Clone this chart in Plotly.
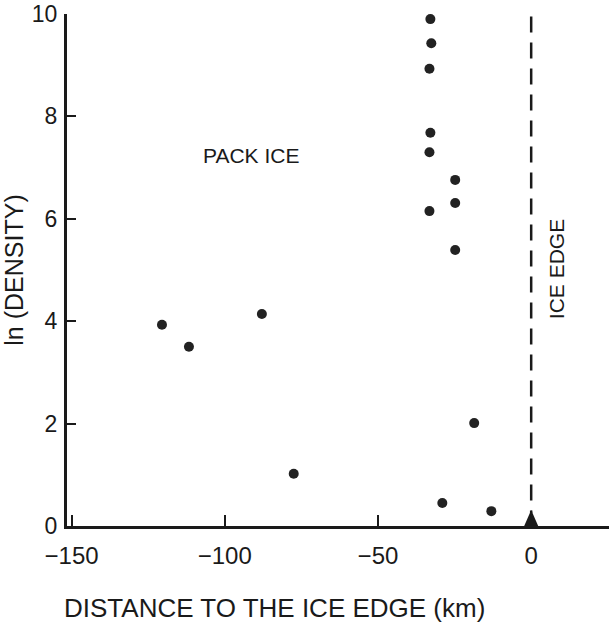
import plotly.graph_objects as go

# Data
distance_km = [-32.9, -32.6, -33.2, -32.9, -33.2, -24.8, -24.8, -33.2, -24.8,
               -120.5, -111.7, -87.9, -77.5, -18.6, -29.0, -13.0]
ln_density = [9.90, 9.43, 8.93, 7.68, 7.30, 6.76, 6.31, 6.15, 5.39,
              3.93, 3.50, 4.14, 1.02, 2.01, 0.45, 0.29]

edge_x = 0
x_ticks = [-150, -100, -50, 0]
x_tick_text = ["\u2212150", "\u2212100", "\u221250", "0"]
y_ticks = [0, 2, 4, 6, 8, 10]

FONT = "Liberation Sans, Arial, sans-serif"
INK = "#1a1a1a"

fig = go.Figure()
fig.add_trace(go.Scatter(
    x=distance_km, y=ln_density, mode="markers",
    marker=dict(size=10, color="#222222"),
    showlegend=False, cliponaxis=False,
))

# ice edge dashed line (pattern starts at the top)
fig.add_shape(type="line", xref="x", yref="y", x0=edge_x, x1=edge_x, y0=9.95, y1=0.25,
              line=dict(color=INK, width=2.5, dash="16px,10px"))
# triangle at ice edge
fig.add_shape(type="path", xref="x", yref="y", xsizemode="pixel", ysizemode="pixel",
              xanchor=edge_x, yanchor=0, path="M-7,0 L7,0 L0,16 Z",
              fillcolor=INK, line=dict(width=0))

fig.add_annotation(x=-91.4, y=7.23, xref="x", yref="y", text="PACK ICE",
                   showarrow=False, font=dict(family=FONT, size=21, color=INK))
fig.add_annotation(x=8.5, y=5.02, xref="x", yref="y", text="ICE EDGE", textangle=-90,
                   showarrow=False, font=dict(family=FONT, size=21, color=INK))
fig.add_annotation(x=0.382, y=-0.16, xref="paper", yref="paper",
                   text="DISTANCE TO THE ICE EDGE (km)", showarrow=False,
                   xanchor="center", yanchor="middle",
                   font=dict(family=FONT, size=26, color=INK))

fig.update_xaxes(range=[-151.5, 25.4], tickmode="array", tickvals=x_ticks, ticktext=x_tick_text,
                 showline=True, linecolor=INK, linewidth=3, ticks="inside", ticklen=11,
                 tickwidth=2, tickcolor=INK, showgrid=False, zeroline=False,
                 tickfont=dict(family=FONT, size=24, color=INK), ticklabelstandoff=6)
fig.update_yaxes(range=[0, 10], tickmode="array", tickvals=y_ticks,
                 showline=True, linecolor=INK, linewidth=3, ticks="inside", ticklen=9,
                 tickwidth=2, tickcolor=INK, showgrid=False, zeroline=False,
                 tickfont=dict(family=FONT, size=23, color=INK), ticklabelstandoff=2,
                 title=dict(text="ln (DENSITY)", standoff=8,
                            font=dict(family=FONT, size=25, color=INK)))

fig.update_layout(width=609, height=627, margin=dict(l=67, r=0, t=14, b=101),
                  paper_bgcolor="white", plot_bgcolor="white")
fig.write_html("out.html")
